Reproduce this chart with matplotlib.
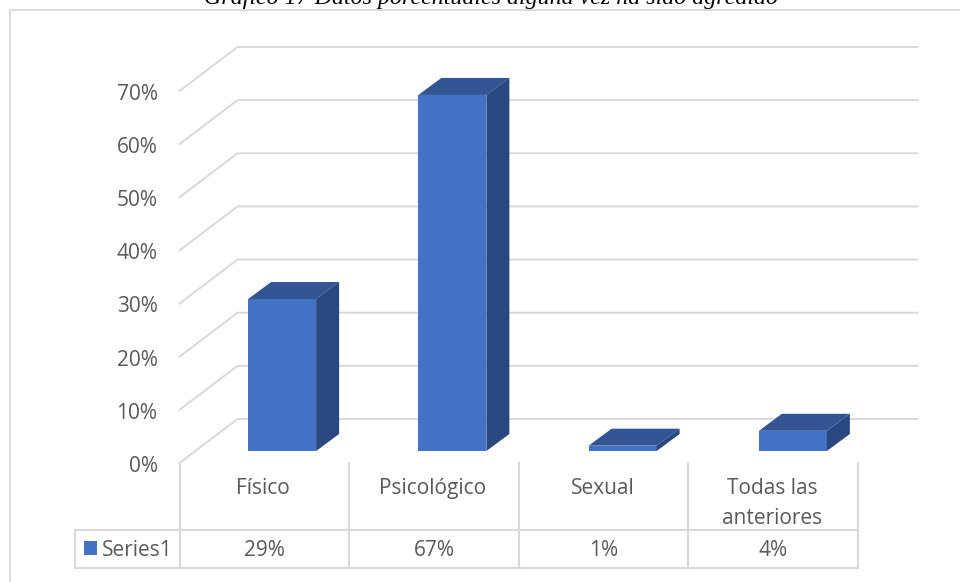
import matplotlib
matplotlib.use("Agg")
import matplotlib.pyplot as plt
from matplotlib.patches import Polygon, Rectangle

categories = ["Físico", "Psicológico", "Sexual", "Todas las\nanteriores"]
bar_values = [28.6, 67, 1, 3.8]
table_labels = ["29%", "67%", "1%", "4%"]
y_ticks = [0, 10, 20, 30, 40, 50, 60, 70]
series_name = "Series1"
title = "Gráfico 17 Datos porcentuales alguna vez ha sido agredido"

FRONT = "#4472c4"
TOP = "#335593"
SIDE = "#2a4780"
GRID = "#d9d9d9"
TEXT = "#595959"
FONT = "Open Sans"
SIZE = 15

W, H = 960, 582
fig = plt.figure(figsize=(W / 100, H / 100), dpi=100, facecolor="white")

# overlay in pixels for the frame and the table under the chart
px = fig.add_axes([0, 0, 1, 1])
px.set_xlim(0, W)
px.set_ylim(H, 0)
px.axis("off")

# main axes: the front plane of the 3d box, x in categories, y in percent
left, right, y0, y70 = 179.5, 860.5, 463, 91
ax = fig.add_axes([left / W, (H - y0) / H, (right - left) / W, (y0 - y70) / H])
ax.set_xlim(-0.5, 3.5)
ax.set_ylim(0, 70)
ax.axis("off")
ax.patch.set_alpha(0)

cat_w = (right - left) / 4
pct = (y0 - y70) / 70
back_x = 58 / cat_w
back_y = 44 / pct
back_right = 3.5 + 57 / cat_w

# gridlines, front edge then along the back wall
for t in y_ticks:
    ax.plot([-0.5, -0.5 + back_x, back_right], [t, t + back_y, t + back_y],
            color=GRID, lw=1.4, clip_on=False, zorder=1, solid_joinstyle="miter")
    ax.text(-0.5 - 22 / cat_w, t - 8.8 / pct, f"{t}%", ha="right", va="baseline",
            color=TEXT, fontsize=SIZE, family=FONT)

# bars sit in the middle of the floor depth
bar_w = 68 / cat_w
off_x = 17.5 / cat_w
off_y = 12 / pct
dep_x = 23 / cat_w
dep_y = 17 / pct
for i, v in enumerate(bar_values):
    x0 = i + off_x - bar_w / 2
    x1 = x0 + bar_w
    ax.bar(i + off_x, v, bar_w, bottom=off_y, color=FRONT, clip_on=False, zorder=3)
    top = off_y + v
    ax.add_patch(Polygon([(x0, top), (x1, top), (x1 + dep_x, top + dep_y), (x0 + dep_x, top + dep_y)],
                         closed=True, fc=TOP, ec="none", clip_on=False, zorder=3))
    ax.add_patch(Polygon([(x1, off_y), (x1 + dep_x, off_y + dep_y), (x1 + dep_x, top + dep_y), (x1, top)],
                         closed=True, fc=SIDE, ec="none", clip_on=False, zorder=3))

# table lines
cols = [179.5, 349, 519, 688, 858]
tab_top, tab_bot = 530, 568
for c in cols:
    px.plot([c, c], [y0, tab_bot], color=GRID, lw=1.5)
px.plot([75, 75], [tab_top, tab_bot], color=GRID, lw=1.5)
px.plot([75, 858], [tab_top, tab_top], color=GRID, lw=1.5)
px.plot([75, 858], [tab_bot, tab_bot], color=GRID, lw=1.5)

for i, (c, lab) in enumerate(zip(categories, table_labels)):
    cx = (cols[i] + cols[i + 1]) / 2
    px.text(cx - 1, 524 if "\n" in c else 494, c, ha="center", va="baseline", color=TEXT,
            fontsize=SIZE, family=FONT, linespacing=1.55)
    px.text(cx, 555.5, lab, ha="center", va="baseline", color=TEXT, fontsize=SIZE, family=FONT)

px.add_patch(Rectangle((84, 541), 13, 14, fc=FRONT, ec="none"))
px.text(102, 555.5, series_name, ha="left", va="baseline", color=TEXT, fontsize=SIZE, family=FONT)

# outer frame, cut by the picture edges
px.plot([9.5, 9.5, 960], [582, 10, 10], color=GRID, lw=1.3)

px.text(490.5, 4, title, ha="center", va="baseline", style="italic", color="black",
        fontsize=17.3, family="Liberation Serif", clip_on=True)

fig.savefig("out.png", dpi=100)
